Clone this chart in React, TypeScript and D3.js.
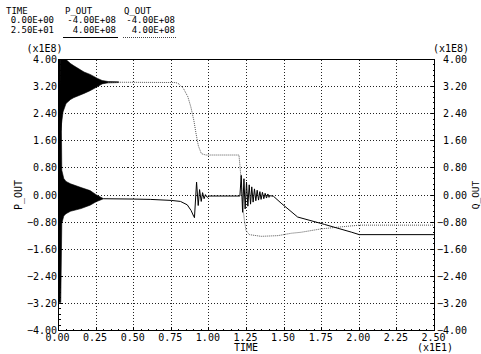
import * as d3 from "d3";
import { useEffect, useRef } from "react";

const timeTicks = [0, 0.25, 0.5, 0.75, 1, 1.25, 1.5, 1.75, 2, 2.25, 2.5];
const valueTicks = [-4, -3.2, -2.4, -1.6, -0.8, 0, 0.8, 1.6, 2.4, 3.2, 4];

// header block
const headNames = ["TIME", "P_OUT", "Q_OUT"];
const headMin = ["0.00E+00", "-4.00E+08", "-4.00E+08"];
const headMax = ["2.50E+01", "4.00E+08", "4.00E+08"];

// start-up transients (dense oscillation), kept as envelopes
const pEnvTime = [0, 0.015, 0.022, 0.035, 0.05, 0.08, 0.15, 0.21, 0.25, 0.3];
const pEnvHigh = [4.0, 4.0, 0.73, 0.49, 0.4, 0.33, 0.22, 0.13, 0.01, -0.11];
const pEnvLow = [-3.17, -3.17, -0.84, -0.62, -0.55, -0.48, -0.4, -0.3, -0.2, -0.11];

const qEnvTime = [0.015, 0.02, 0.03, 0.05, 0.08, 0.1, 0.17, 0.21, 0.26, 0.29, 0.33, 0.4];
const qEnvHigh = [4.0, 4.0, 4.0, 4.0, 3.88, 3.82, 3.63, 3.56, 3.44, 3.38, 3.35, 3.34];
const qEnvLow = [1.9, 2.1, 2.45, 2.7, 2.82, 2.87, 3.0, 3.08, 3.2, 3.28, 3.31, 3.32];

// P_OUT after start-up
const pTime = [
  0.3, 0.5, 0.61, 0.75, 0.811, 0.856, 0.882, 0.9, 0.904, 0.918, 0.929, 0.938, 0.949,
  0.958, 0.968, 0.977, 0.989, 1.002, 1.206, 1.215, 1.224, 1.233, 1.241, 1.25, 1.259,
  1.268, 1.277, 1.285, 1.294, 1.303, 1.312, 1.321, 1.33, 1.339, 1.347, 1.356, 1.365,
  1.374, 1.383, 1.392, 1.4, 1.409, 1.43, 1.48, 1.59, 1.77, 1.95, 2.0, 2.5,
];
const pValue = [
  -0.11, -0.12, -0.13, -0.16, -0.19, -0.29, -0.46, -0.64, -0.67, 0.38, -0.31, 0.16, -0.19,
  0.07, -0.11, 0.01, -0.07, -0.03, -0.03, 0.58, -0.51, 0.48, -0.41, 0.38, -0.33,
  0.3, -0.27, 0.24, -0.21, 0.18, -0.17, 0.14, -0.15, 0.1, -0.13, 0.08, -0.11,
  0.05, -0.09, 0.03, -0.07, -0.02, -0.04, -0.24, -0.65, -0.87, -1.1, -1.17, -1.17,
];

// Q_OUT after start-up
const qTime = [
  0.33, 0.78, 0.8, 0.83, 0.86, 0.88, 0.9, 0.915, 0.93, 0.95, 0.98, 1.2, 1.213, 1.224,
  1.236, 1.247, 1.269, 1.347, 1.458, 1.547, 1.613, 1.747, 1.88, 2.0, 2.5,
];
const qValue = [
  3.33, 3.32, 3.28, 3.15, 2.9, 2.6, 2.2, 1.8, 1.45, 1.22, 1.18, 1.18, 0.53, -0.26,
  -0.75, -1.05, -1.17, -1.22, -1.2, -1.13, -1.1, -1.0, -0.94, -0.89, -0.89,
];

const FONT = "'DejaVu Sans Mono', monospace";

const App = () => {
  const chartRef = useRef<SVGSVGElement>(null);

  useEffect(() => {
    const svg = d3.select(chartRef.current);
    svg.selectAll("*").remove();

    const x = d3.scaleLinear().domain([0, 2.5]).range([58.5, 434.5]);
    const y = d3.scaleLinear().domain([-4, 4]).range([330.5, 59.5]);

    const txt = (s: string, px: number, py: number, anchor = "start", size = 10) =>
      svg
        .append("text")
        .attr("x", px)
        .attr("y", py)
        .attr("text-anchor", anchor)
        .style("font-family", FONT)
        .style("font-size", `${size}px`)
        .attr("fill", "#000")
        .text(s);

    // header: right edges of the value columns
    const colEnd = [54, 116, 175];
    txt(headNames[0], 6, 13.5, "start", 9);
    txt(headNames[1], 65, 13.5, "start", 9);
    txt(headNames[2], 124, 13.5, "start", 9);
    headMin.forEach((n, i) => txt(n, colEnd[i], 23, "end", 9));
    headMax.forEach((n, i) => txt(n, colEnd[i], 32.5, "end", 9));
    svg.append("line").attr("x1", 63).attr("x2", 118).attr("y1", 37.5).attr("y2", 37.5)
      .attr("stroke", "#000");
    svg.append("line").attr("x1", 123).attr("x2", 177).attr("y1", 37.5).attr("y2", 37.5)
      .attr("stroke", "#444").attr("stroke-dasharray", "1,1");

    // grid
    const grid = svg.append("g").attr("stroke", "#222").attr("stroke-dasharray", "1,2")
      .attr("shape-rendering", "crispEdges");
    timeTicks.slice(1, -1).forEach((t) => {
      grid.append("line").attr("x1", x(t)).attr("x2", x(t)).attr("y1", y(4)).attr("y2", y(-4));
    });
    valueTicks.slice(1, -1).forEach((v) => {
      grid.append("line").attr("x1", x(0)).attr("x2", x(2.5)).attr("y1", y(v)).attr("y2", y(v));
    });

    // ticks
    const tk = svg.append("g").attr("stroke", "#000").attr("shape-rendering", "crispEdges");
    d3.range(0, 51).forEach((i) => {
      const v = -4 + i * 0.16;
      const len = i % 5 === 0 ? 4 : 2;
      tk.append("line").attr("x1", x(0)).attr("x2", x(0) + len).attr("y1", y(v)).attr("y2", y(v));
      tk.append("line").attr("x1", x(2.5)).attr("x2", x(2.5) - len).attr("y1", y(v)).attr("y2", y(v));
    });
    d3.range(0, 51).forEach((i) => {
      const t = i * 0.05;
      const len = i % 5 === 0 ? 4 : 2;
      tk.append("line").attr("x1", x(t)).attr("x2", x(t)).attr("y1", y(-4)).attr("y2", y(-4) - len);
    });

    // frame
    svg.append("rect").attr("x", x(0)).attr("y", y(4))
      .attr("width", x(2.5) - x(0)).attr("height", y(-4) - y(4))
      .attr("fill", "none").attr("stroke", "#000").attr("shape-rendering", "crispEdges");

    // tick labels
    const fmt = d3.format(".2f");
    valueTicks.forEach((v) => {
      txt(fmt(v), 57, y(v) + 3.5, "end");
      txt(fmt(v), 467, y(v) + 3.5, "end");
    });
    timeTicks.forEach((t) => txt(fmt(t), x(t) - 1, 341, "middle"));
    txt("(x1E8)", 26.5, 52);
    txt("(x1E8)", 433, 52);
    txt("(x1E1)", 435, 351, "middle");
    txt("TIME", 246, 351, "middle");
    txt("P_OUT", 0, 0, "middle").attr("transform", `translate(22,${(y(4) + y(-4)) / 2}) rotate(-90)`);
    txt("Q_OUT", 0, 0, "middle", 9.5).attr("transform", `translate(479,${(y(4) + y(-4)) / 2}) rotate(-90)`);

    // envelopes
    const env = (ts: number[], hi: number[], lo: number[]) =>
      d3.area<number>().x((_, i) => x(ts[i])).y0((_, i) => y(lo[i])).y1((_, i) => y(hi[i]))(ts);
    svg.append("path").attr("d", env(qEnvTime, qEnvHigh, qEnvLow))
      .attr("fill", "#000").attr("stroke", "#000").attr("stroke-width", 0.6);
    svg.append("path").attr("d", env(pEnvTime, pEnvHigh, pEnvLow))
      .attr("fill", "#000").attr("stroke", "#000").attr("stroke-width", 0.6);

    const line = (ts: number[], vs: number[]) =>
      d3.line<number>().x((_, i) => x(ts[i])).y((_, i) => y(vs[i]))(ts);

    svg.append("path").attr("d", line(qTime, qValue))
      .attr("fill", "none").attr("stroke", "#555").attr("stroke-width", 1)
      .attr("stroke-dasharray", "1,1");
    svg.append("path").attr("d", line(pTime, pValue))
      .attr("fill", "none").attr("stroke", "#000").attr("stroke-width", 1);
  }, []);

  return (
    <svg
      ref={chartRef}
      width={481}
      height={354}
      style={{ position: "absolute", left: 0, top: 0, background: "#fff" }}
    ></svg>
  );
};

export default App;
